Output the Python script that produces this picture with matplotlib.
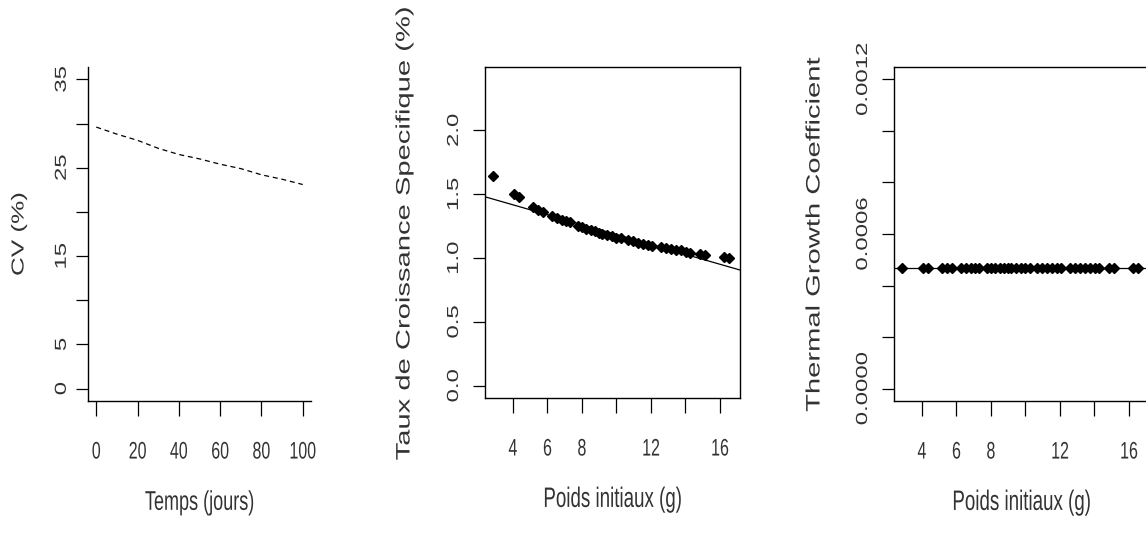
import matplotlib
matplotlib.use("Agg")
import matplotlib.pyplot as plt
from matplotlib.patheffects import AbstractPathEffect
from matplotlib.transforms import Affine2D

plt.rcParams['font.family'] = ['Liberation Sans', 'DejaVu Sans']

# panel 1 : CV over time
jours = [0, 10, 20, 30, 40, 50, 60, 70, 80, 90, 100]
cv = [29.6, 28.8, 28.1, 27.2, 26.5, 26.0, 25.4, 24.9, 24.2, 23.7, 23.1]
cv_yticks = [0, 5, 10, 15, 20, 25, 30, 35]
cv_ylabels = ['0', '5', '', '15', '', '25', '', '35']
jours_ticks = [0, 20, 40, 60, 80, 100]

# panels 2 and 3 : initial weight of each fish
poids = [2.85, 4.08, 4.35, 5.17, 5.46, 5.75, 6.24, 6.53, 6.82, 7.10, 7.29,
         7.77, 8.01, 8.26, 8.51, 8.74, 8.97, 9.16, 9.47, 9.74, 9.99, 10.28,
         10.66, 10.95, 11.24, 11.53, 11.82, 12.05, 12.60, 12.89, 13.17, 13.46,
         13.75, 14.04, 14.29, 14.87, 15.16, 16.21, 16.54]
tcs = [1.64, 1.50, 1.48, 1.40, 1.38, 1.36, 1.33, 1.31, 1.30, 1.29, 1.28,
       1.25, 1.24, 1.23, 1.22, 1.21, 1.20, 1.19, 1.18, 1.17, 1.16, 1.155,
       1.145, 1.13, 1.12, 1.11, 1.10, 1.095, 1.085, 1.08, 1.07, 1.065,
       1.06, 1.05, 1.04, 1.03, 1.025, 1.01, 1.00]
tcs_fit = (1.572, -0.0388)   # intercept, slope of the fitted line
tcs_yticks = [0.0, 0.5, 1.0, 1.5, 2.0]
tcs_ylabels = ['0.0', '0.5', '1.0', '1.5', '2.0']

tgc_value = 0.00047
tgc = [tgc_value] * len(poids)
tgc_yticks = [0.0, 0.0002, 0.0004, 0.0006, 0.0008, 0.0010, 0.0012]
tgc_ylabels = ['0.0000', '', '', '0.0006', '', '', '0.0012']

poids_ticks = [4, 6, 8, 10, 12, 14, 16]
poids_labels = ['4', '6', '8', '', '12', '', '16']


class VStretch(AbstractPathEffect):
    """Stretch text vertically about its centre (reference is squashed/stretched)."""
    def __init__(self, sy=1.5):
        super().__init__()
        self.sy = sy

    def draw_path(self, renderer, gc, tpath, affine, rgbFace=None):
        bb = tpath.get_extents(affine)
        yc = (bb.y0 + bb.y1) / 2
        st = Affine2D().translate(0, -yc).scale(1, self.sy).translate(0, yc)
        renderer.draw_path(gc, tpath, affine + st, rgbFace)


W, H = 1146, 536
fig = plt.figure(figsize=(W / 100, H / 100), dpi=100)


def px_axes(left, top, right, bottom):
    return fig.add_axes([left / W, 1 - bottom / H, (right - left) / W, (bottom - top) / H])


def style(ax, xpad, ypad):
    for s in ax.spines.values():
        s.set_linewidth(1.0)
    ax.tick_params(axis='x', direction='out', length=10.8, width=0.9,
                   labelsize=11.5, pad=xpad)
    ax.tick_params(axis='y', direction='out', length=8.8, width=0.9,
                   labelsize=11.5, pad=ypad, labelrotation=90)
    for t in ax.xaxis.get_major_ticks() + ax.yaxis.get_major_ticks():
        t.label1.set_path_effects([VStretch()])
        t.label1.set_color('#333333')
    for t in ax.get_yticklabels():
        t.set_va('center')


# ---- panel 1
ax1 = px_axes(88, 67, 311, 401)
ax1.plot(jours, cv, color='black', lw=0.9, dashes=(4, 3))
ax1.set_xlim(-4, 104)
ax1.set_ylim(-1.4, 36.4)
ax1.set_xticks(jours_ticks)
ax1.set_yticks(cv_yticks, cv_ylabels)
ax1.spines['top'].set_visible(False)
ax1.spines['right'].set_visible(False)
style(ax1, 20, 5)
ax1.set_xlabel('Temps (jours)', fontsize=13)
ax1.set_ylabel('CV (%)', fontsize=12.5)

# ---- panel 2
ax2 = px_axes(485, 67, 740, 398)
ax2.plot(poids, tcs, 'D', color='black', ms=5.2)
ax2.axline((0, tcs_fit[0]), slope=tcs_fit[1], color='black', lw=0.9)
ax2.set_xlim(2.38, 17.16)
ax2.set_ylim(-0.096, 2.496)
ax2.set_xticks(poids_ticks, poids_labels)
ax2.set_yticks(tcs_yticks, tcs_ylabels)
style(ax2, 20, 8.5)
ax2.set_xlabel('Poids initiaux (g)', fontsize=13.5)
ax2.set_ylabel('Taux de Croissance Specifique (%)', fontsize=14)

# ---- panel 3 (right edge cut off, as in the reference)
ax3 = px_axes(894, 67, 1149, 401)
ax3.axhline(tgc_value, color='black', lw=0.9)
ax3.plot(poids, tgc, 'D', color='black', ms=5.2)
ax3.set_xlim(2.38, 17.16)
ax3.set_ylim(-0.000048, 0.001248)
ax3.set_xticks(poids_ticks, poids_labels)
ax3.set_yticks(tgc_yticks, tgc_ylabels)
style(ax3, 20, 8.5)
ax3.set_xlabel('Poids initiaux (g)', fontsize=13.5)
ax3.set_ylabel('Thermal Growth Coefficient', fontsize=14)

# axis label placement (centres in pixels)
for ax, (l, t, r, b), xl_y, yl_x in [
        (ax1, (88, 67, 311, 401), 503, 19),
        (ax2, (485, 67, 740, 398), 500, 405),
        (ax3, (894, 67, 1149, 401), 503, 815)]:
    ax.xaxis.label.set_va('center')
    ax.yaxis.label.set_va('center')
    ax.xaxis.set_label_coords(0.5, -(xl_y - b) / (b - t))
    ax.yaxis.set_label_coords((yl_x - l) / (r - l), 0.5)
    for lab in (ax.xaxis.label, ax.yaxis.label):
        lab.set_path_effects([VStretch()])
        lab.set_color('#333333')

fig.savefig('out.png', dpi=100)
